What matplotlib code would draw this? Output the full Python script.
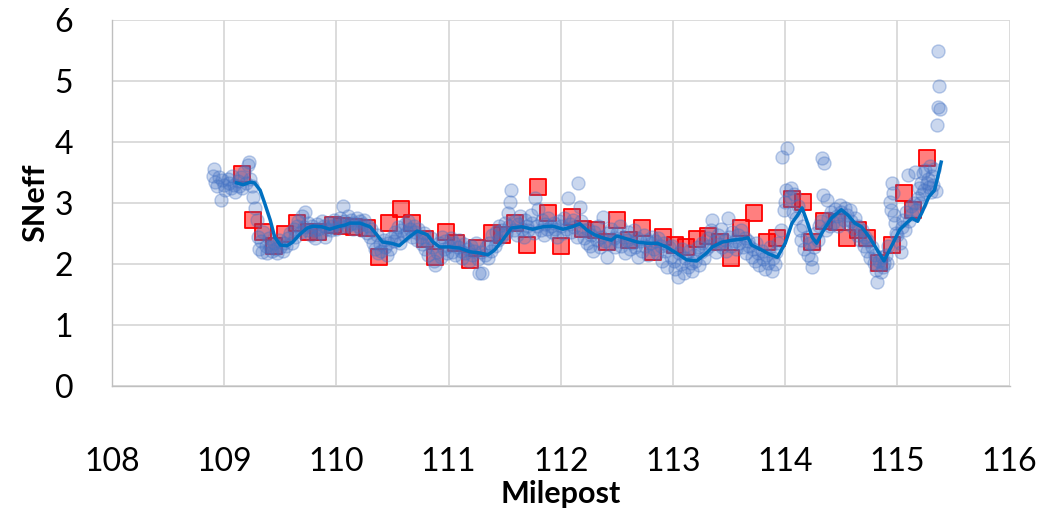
import numpy as np
import matplotlib
matplotlib.use("Agg")
import matplotlib.pyplot as plt

# Mesures SNeff le long du tracé (points bruts)
circle_x = [
    108.90, 108.91, 108.92, 108.94, 108.95, 108.97, 108.98, 109.00, 109.01, 109.03,
    109.04, 109.06, 109.07, 109.09, 109.10, 109.12, 109.13, 109.15, 109.16, 109.18,
    109.19, 109.21, 109.22, 109.23, 109.25, 109.26, 109.27,
    109.29, 109.30, 109.31, 109.33, 109.34, 109.35, 109.37, 109.38, 109.40, 109.41,
    109.43, 109.44, 109.46, 109.47, 109.49, 109.50, 109.52, 109.53, 109.55,
    109.57, 109.59, 109.60, 109.62, 109.63, 109.65, 109.66, 109.68, 109.69, 109.71,
    109.72, 109.74, 109.75, 109.77, 109.78, 109.80, 109.81, 109.83, 109.84, 109.86,
    109.87, 109.89, 109.90, 109.92, 109.93, 109.95, 109.96, 109.98,
    110.00, 110.01, 110.03, 110.04, 110.06, 110.07, 110.09, 110.10, 110.12, 110.13,
    110.15, 110.16, 110.18, 110.19, 110.21, 110.22, 110.24, 110.25, 110.27, 110.28,
    110.30, 110.31, 110.33, 110.34, 110.36, 110.37, 110.39, 110.40, 110.42, 110.43,
    110.45, 110.46, 110.48, 110.49,
    110.51, 110.52, 110.54, 110.55, 110.57, 110.58, 110.60, 110.61, 110.63, 110.64,
    110.66, 110.67, 110.69, 110.70, 110.72, 110.73,
    110.75, 110.76, 110.78, 110.79, 110.81, 110.82, 110.84, 110.85, 110.87, 110.88,
    110.90, 110.91, 110.93, 110.94, 110.96, 110.97, 110.99,
    111.00, 111.02, 111.03, 111.05, 111.06, 111.08, 111.09, 111.11, 111.12, 111.14,
    111.15, 111.17, 111.18, 111.20, 111.21, 111.23, 111.24, 111.26, 111.27, 111.29,
    111.30,
    111.32, 111.33, 111.35, 111.36, 111.38, 111.39, 111.41, 111.42, 111.44, 111.45,
    111.47, 111.48, 111.50,
    111.51, 111.53, 111.54, 111.55, 111.56, 111.58, 111.59, 111.61, 111.62, 111.64,
    111.65, 111.67, 111.68, 111.70, 111.71, 111.73, 111.74, 111.76, 111.77, 111.79,
    111.80, 111.82, 111.83, 111.85, 111.86, 111.88, 111.89, 111.91, 111.92, 111.94,
    111.95, 111.97, 111.98,
    112.00, 112.02, 112.03, 112.05, 112.06, 112.08, 112.09, 112.11, 112.12, 112.14,
    112.15, 112.17, 112.18, 112.20, 112.21,
    112.23, 112.24, 112.26, 112.27, 112.29, 112.30, 112.32, 112.33, 112.35, 112.36,
    112.38, 112.39, 112.41, 112.42, 112.44, 112.45, 112.47, 112.48,
    112.50, 112.51, 112.53, 112.54, 112.56, 112.57, 112.59, 112.60, 112.62, 112.63,
    112.65, 112.66, 112.68, 112.69, 112.71, 112.72, 112.74, 112.75, 112.77, 112.78,
    112.80, 112.81, 112.83, 112.84, 112.86, 112.87, 112.89, 112.90, 112.92, 112.93,
    112.95, 112.96,
    112.98, 112.99, 113.01, 113.02, 113.04, 113.05, 113.07, 113.08, 113.10, 113.11,
    113.13, 113.14, 113.16, 113.17, 113.19, 113.20, 113.22, 113.23, 113.25, 113.26,
    113.28,
    113.29, 113.31, 113.32, 113.34, 113.35, 113.37, 113.38, 113.40, 113.41, 113.43,
    113.44, 113.46, 113.47, 113.49, 113.50, 113.52, 113.53, 113.55, 113.56, 113.58,
    113.59, 113.61, 113.62, 113.64, 113.65, 113.67,
    113.68, 113.70, 113.71, 113.73, 113.74, 113.76, 113.77, 113.79, 113.80, 113.82,
    113.83, 113.85, 113.86, 113.88, 113.89, 113.91, 113.92,
    113.94, 113.96, 113.97, 113.99, 114.00, 114.01, 114.02, 114.04, 114.05, 114.07,
    114.08, 114.10, 114.11,
    114.13, 114.14, 114.16, 114.17, 114.19, 114.20, 114.22, 114.23, 114.24, 114.26,
    114.27, 114.29,
    114.30, 114.32, 114.33, 114.34, 114.35, 114.36, 114.37, 114.38, 114.40, 114.41,
    114.43, 114.44, 114.46, 114.47, 114.49, 114.50, 114.52, 114.53, 114.55, 114.56,
    114.58,
    114.59, 114.61, 114.62, 114.64, 114.65, 114.67, 114.68, 114.70, 114.71, 114.73,
    114.74, 114.76, 114.77, 114.79, 114.80, 114.81, 114.82, 114.84, 114.85, 114.86,
    114.87, 114.88,
    114.90, 114.91, 114.92, 114.93, 114.94, 114.95, 114.96, 114.97, 114.98, 114.99,
    115.00, 115.02, 115.03, 115.04, 115.05, 115.07, 115.08, 115.09, 115.10, 115.12,
    115.13, 115.15, 115.16, 115.17,
    115.18, 115.19, 115.20, 115.21, 115.22, 115.23, 115.24, 115.25, 115.26, 115.27,
    115.28, 115.29, 115.30, 115.31, 115.32, 115.33, 115.34,
    115.35, 115.36, 115.36, 115.37, 115.38,
]
circle_y = [
    3.45, 3.55, 3.35, 3.28, 3.42, 3.05, 3.38, 3.30, 3.22, 3.40,
    3.33, 3.25, 3.45, 3.30, 3.18, 3.36, 3.28, 3.42, 3.25, 3.50,
    3.33, 3.62, 3.67, 3.40, 3.28, 3.10, 2.92,
    2.72, 2.45, 2.25, 2.38, 2.20, 2.52, 2.30, 2.18, 2.42, 2.28,
    2.22, 2.35, 2.25, 2.18, 2.40, 2.28, 2.22, 2.35, 2.30,
    2.42, 2.50, 2.35, 2.58, 2.45, 2.62, 2.70, 2.52, 2.78, 2.60,
    2.85, 2.55, 2.68, 2.48, 2.62, 2.55, 2.42, 2.65, 2.58, 2.50,
    2.70, 2.62, 2.45, 2.58, 2.68, 2.55, 2.62, 2.72,
    2.58, 2.68, 2.75, 2.60, 2.95, 2.70, 2.62, 2.78, 2.65, 2.72,
    2.58, 2.68, 2.75, 2.62, 2.70, 2.55, 2.65, 2.72, 2.50, 2.62,
    2.45, 2.58, 2.35, 2.25, 2.48, 2.18, 2.32, 2.22, 2.40, 2.28,
    2.15, 2.35, 2.25, 2.42,
    2.38, 2.52, 2.45, 2.60, 2.35, 2.55, 2.48, 2.65, 2.52, 2.70,
    2.58, 2.45, 2.62, 2.52, 2.40, 2.58,
    2.45, 2.32, 2.50, 2.25, 2.38, 2.15, 2.42, 2.28, 2.05, 1.98,
    2.20, 2.35, 2.12, 2.45, 2.25, 2.38, 2.18,
    2.30, 2.42, 2.20, 2.35, 2.15, 2.28, 2.40, 2.22, 2.10, 2.32,
    2.18, 2.25, 2.05, 2.30, 2.15, 2.22, 2.35, 2.08, 1.85, 2.20,
    1.85,
    2.15, 2.28, 2.10, 2.35, 2.22, 2.48, 2.30, 2.52, 2.40, 2.62,
    2.45, 2.55, 2.68,
    2.50, 2.84, 2.62, 3.02, 3.21, 2.55, 2.70, 2.48, 2.65, 2.78,
    2.58, 2.45, 2.72, 2.62, 2.55, 2.80, 2.68, 2.50, 3.08, 2.62,
    2.90, 2.55, 2.72, 2.48, 2.65, 2.58, 2.75, 2.62, 2.52, 2.68,
    2.58, 2.45, 2.70,
    2.62, 2.50, 2.75, 2.58, 3.08, 2.65, 2.52, 2.72, 2.60, 2.45,
    3.33, 2.93, 2.70, 2.55, 2.42,
    2.35, 2.58, 2.30, 2.48, 2.22, 2.52, 2.40, 2.62, 2.28, 2.45,
    2.77, 2.38, 2.11, 2.50, 2.32, 2.58, 2.42, 2.28,
    2.50, 2.38, 2.62, 2.30, 2.45, 2.18, 2.40, 2.52, 2.25, 2.35,
    2.55, 2.28, 2.42, 2.12, 2.38, 2.22, 2.48, 2.30, 2.40, 2.15,
    2.35, 2.45, 2.25, 2.38, 2.18, 2.42, 2.30, 2.05, 2.35, 2.22,
    1.95, 2.28,
    2.12, 2.30, 2.05, 1.92, 1.79, 2.18, 2.00, 2.25, 1.85, 2.10,
    1.95, 2.22, 2.02, 1.88, 2.15, 2.05, 2.28, 1.98, 2.20, 2.35,
    2.10,
    2.25, 2.42, 2.30, 2.55, 2.72, 2.38, 2.20, 2.48, 2.32, 2.58,
    2.28, 2.40, 2.22, 2.75, 2.45, 2.30, 2.52, 2.38, 2.25, 2.48,
    2.35, 2.55, 2.28, 2.42, 2.18, 2.38,
    2.30, 2.12, 2.25, 2.05, 2.35, 2.18, 1.98, 2.22, 2.08, 1.92,
    2.15, 2.02, 2.28, 1.88, 2.10, 2.00, 2.20,
    2.35, 2.55, 3.75, 2.89, 3.02, 3.21, 3.90, 3.10, 3.25, 2.85,
    3.15, 2.75, 2.95,
    2.55, 2.40, 2.62, 2.25, 2.45, 2.15, 2.35, 2.08, 1.95, 2.28,
    2.50, 2.40,
    2.62, 2.70, 3.74, 3.13, 3.65, 2.55, 3.05, 2.75, 2.62, 2.85,
    2.68, 2.90, 2.78, 2.62, 2.97, 2.85, 2.72, 2.92, 2.80, 2.65,
    2.88,
    2.70, 2.58, 2.75, 2.48, 2.62, 2.40, 2.55, 2.30, 2.45, 2.22,
    2.38, 2.10, 2.28, 2.02, 2.15, 1.90, 1.70, 2.05, 1.87, 2.11,
    1.95, 2.02,
    2.15, 2.02, 2.30, 3.02, 2.89, 3.33, 3.16, 2.80, 2.67, 2.51,
    2.48, 2.34, 2.20, 2.60, 2.72, 2.55, 2.85, 3.46, 2.70, 2.95,
    2.82, 3.00, 3.51, 2.89,
    3.08, 3.25, 3.00, 3.33, 3.15, 3.49, 3.22, 3.54, 3.33, 3.40,
    3.26, 3.60, 3.18, 3.45, 3.30, 3.55, 3.20,
    4.28, 5.49, 4.57, 4.92, 4.54,
]

# Points de contrôle (carrés rouges)
square_x = [
    109.16, 109.26, 109.35, 109.44, 109.54, 109.65, 109.76, 109.84, 109.97, 110.05,
    110.16, 110.27, 110.38, 110.47, 110.58, 110.67, 110.79, 110.88, 110.98, 111.07,
    111.19, 111.25, 111.39, 111.48, 111.59, 111.70, 111.80, 111.89, 112.00, 112.10,
    112.20, 112.31, 112.41, 112.50, 112.61, 112.72, 112.82, 112.91, 113.02, 113.12,
    113.21, 113.31, 113.42, 113.52, 113.61, 113.72, 113.84, 113.93, 114.06, 114.16,
    114.24, 114.35, 114.46, 114.55, 114.65, 114.73, 114.84, 114.95, 115.06, 115.14,
    115.26,
]
square_y = [
    3.47, 2.72, 2.52, 2.30, 2.49, 2.67, 2.52, 2.52, 2.64, 2.62,
    2.61, 2.59, 2.11, 2.67, 2.90, 2.67, 2.41, 2.11, 2.52, 2.34,
    2.07, 2.26, 2.51, 2.48, 2.67, 2.31, 3.26, 2.84, 2.30, 2.77,
    2.57, 2.56, 2.36, 2.72, 2.39, 2.59, 2.20, 2.44, 2.31, 2.28,
    2.41, 2.46, 2.36, 2.10, 2.59, 2.84, 2.36, 2.43, 3.07, 3.02,
    2.36, 2.70, 2.69, 2.43, 2.56, 2.43, 2.01, 2.31, 3.16, 2.89,
    3.74,
]

# Moyenne glissante
trend_x = [
    109.11, 109.17, 109.23, 109.27, 109.32, 109.36, 109.41, 109.45, 109.50, 109.56,
    109.61, 109.67, 109.74, 109.79, 109.87, 109.94, 110.01, 110.08, 110.12, 110.21,
    110.30, 110.36, 110.41, 110.49, 110.56, 110.64, 110.72, 110.81, 110.86, 110.92,
    111.01, 111.10, 111.19, 111.28, 111.35, 111.41, 111.48, 111.56, 111.65, 111.75,
    111.84, 111.93, 112.02, 112.10, 112.17, 112.23, 112.30, 112.37, 112.45, 112.50,
    112.59, 112.68, 112.77, 112.86, 112.94, 113.03, 113.12, 113.21, 113.30, 113.35,
    113.44, 113.53, 113.62, 113.67, 113.70, 113.79, 113.86, 113.93, 114.00, 114.06,
    114.11, 114.15, 114.19, 114.24, 114.28, 114.33, 114.41, 114.50, 114.56, 114.62,
    114.68, 114.75, 114.82, 114.88, 114.96, 115.02, 115.08, 115.13, 115.18, 115.22,
    115.28, 115.33, 115.36, 115.39,
]
trend_y = [
    3.33, 3.30, 3.34, 3.33, 3.21, 3.00, 2.72, 2.44, 2.31, 2.30,
    2.36, 2.48, 2.59, 2.62, 2.61, 2.57, 2.61, 2.64, 2.67, 2.67,
    2.61, 2.48, 2.36, 2.34, 2.30, 2.43, 2.54, 2.48, 2.36, 2.28,
    2.28, 2.26, 2.20, 2.18, 2.15, 2.23, 2.39, 2.59, 2.61, 2.57,
    2.61, 2.62, 2.57, 2.61, 2.66, 2.56, 2.48, 2.43, 2.39, 2.46,
    2.41, 2.36, 2.34, 2.34, 2.28, 2.18, 2.07, 2.05, 2.18, 2.28,
    2.36, 2.39, 2.41, 2.43, 2.31, 2.23, 2.16, 2.11, 2.34, 2.67,
    2.80, 2.92, 2.72, 2.44, 2.34, 2.52, 2.75, 2.89, 2.80, 2.67,
    2.61, 2.44, 2.23, 2.05, 2.34, 2.56, 2.67, 2.75, 2.70, 2.85,
    3.10, 3.21, 3.43, 3.67,
]

x_ticks = [108, 109, 110, 111, 112, 113, 114, 115, 116]
y_ticks = [0, 1, 2, 3, 4, 5, 6]

plt.rcParams['font.family'] = ['Lato', 'DejaVu Sans']

fig = plt.figure(figsize=(10.43, 5.13), dpi=100)
ax = fig.add_axes([0.1074, 0.2476, 0.8606, 0.7134])

ax.scatter(square_x, square_y, marker='s', s=118, facecolor=(1, 0, 0, 0.5),
           edgecolor='#FF0000', linewidth=1.3, zorder=2)
ax.scatter(circle_x, circle_y, marker='o', s=88, facecolor=(0.267, 0.447, 0.769, 0.28),
           edgecolor=(0.267, 0.447, 0.769, 0.35), linewidth=1.0, zorder=3)
ax.plot(trend_x, trend_y, color='#0070C0', linewidth=2.5, zorder=4)

ax.set_xlim(108, 116)
ax.set_ylim(0, 6)
ax.set_xticks(x_ticks)
ax.set_yticks(y_ticks)
ax.grid(True, color='#D9D9D9', linewidth=1.3, zorder=0)
ax.set_axisbelow(True)
for side in ['top', 'right']:
    ax.spines[side].set_visible(False)
for side in ['left', 'bottom']:
    ax.spines[side].set_color('#BFBFBF')
    ax.spines[side].set_linewidth(1.0)
ax.tick_params(axis='both', length=0, labelsize=23, colors='black')
ax.tick_params(axis='x', pad=44)
ax.tick_params(axis='y', pad=28)

ax.set_xlabel('Milepost', fontsize=22, fontweight='bold', labelpad=2)
ax.set_ylabel('SNeff', fontsize=22, fontweight='bold', labelpad=4)

fig.savefig('out.png', dpi=100)
